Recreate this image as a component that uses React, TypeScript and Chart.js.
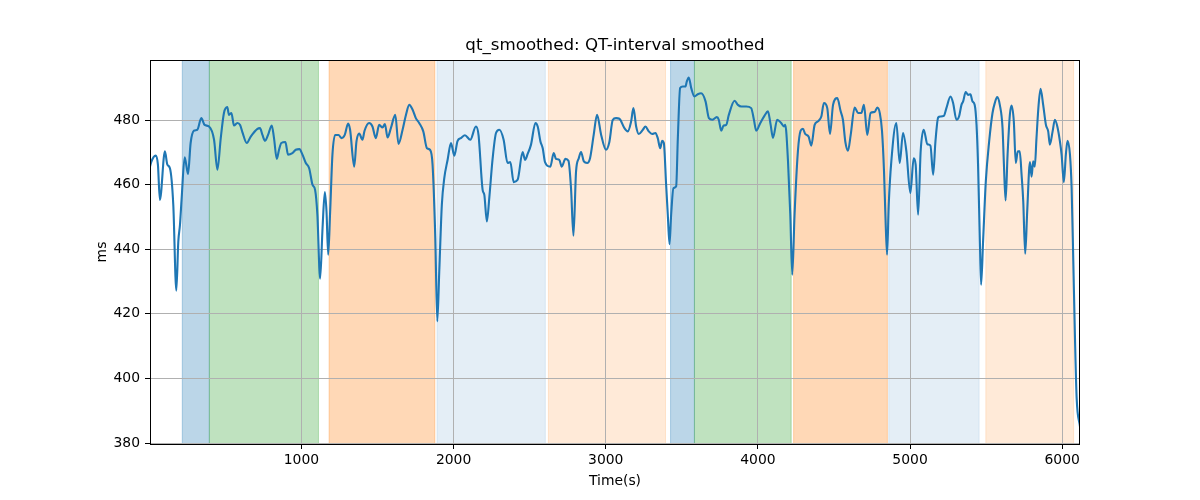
import { useEffect, useRef } from "react";
import { Chart, registerables } from "chart.js";

Chart.register(...registerables);

// QT interval samples (time in s, value in ms)
const timeS = [
  0, 13, 42, 57, 70, 103, 119, 136, 158, 178, 191, 202, 213, 233, 255, 272, 294, 316, 342, 364,
  393, 426, 448, 470, 491, 513, 524, 540, 557, 579, 597, 612, 641, 667, 711, 728, 744, 761, 781, 805,
  820, 838, 853, 868, 895, 912, 941, 963, 987, 1007, 1029, 1051, 1073, 1090, 1105, 1123, 1139, 1154, 1165, 1176,
  1189, 1204, 1222, 1244, 1263, 1285, 1307, 1320, 1347, 1362, 1380, 1401, 1415, 1445, 1467, 1489, 1511, 1533, 1549, 1566,
  1588, 1617, 1638, 1665, 1687, 1709, 1731, 1752, 1774, 1801, 1825, 1845, 1862, 1880, 1893, 1906, 1923, 1939, 1961, 1983,
  2005, 2026, 2048, 2075, 2110, 2147, 2164, 2191, 2202, 2219, 2235, 2257, 2279, 2301, 2329, 2355, 2373, 2395, 2421, 2454,
  2470, 2487, 2509, 2538, 2553, 2571, 2586, 2601, 2636, 2658, 2673, 2695, 2711, 2735, 2755, 2772, 2788, 2805, 2823, 2838,
  2856, 2878, 2897, 2921, 2943, 2970, 3002, 3024, 3046, 3068, 3090, 3123, 3145, 3167, 3182, 3200, 3217, 3244, 3261, 3283,
  3305, 3327, 3342, 3358, 3371, 3382, 3397, 3408, 3419, 3430, 3445, 3463, 3474, 3489, 3507, 3524, 3533, 3546, 3562, 3583,
  3605, 3627, 3656, 3678, 3700, 3730, 3743, 3759, 3775, 3792, 3809, 3847, 3869, 3891, 3924, 3956, 3974, 3989, 4016, 4044,
  4066, 4084, 4099, 4127, 4153, 4171, 4180, 4198, 4213, 4226, 4241, 4263, 4281, 4296, 4311, 4333, 4351, 4373, 4395, 4417,
  4434, 4456, 4474, 4494, 4522, 4544, 4559, 4575, 4592, 4610, 4636, 4658, 4680, 4697, 4719, 4741, 4768, 4785, 4801, 4816,
  4829, 4838, 4849, 4860, 4877, 4910, 4932, 4954, 4976, 5002, 5024, 5037, 5053, 5070, 5090, 5114, 5134, 5152, 5167, 5185,
  5200, 5222, 5239, 5266, 5283, 5305, 5322, 5338, 5349, 5366, 5382, 5397, 5410, 5425, 5437, 5447, 5459, 5467, 5480, 5498,
  5520, 5542, 5557, 5573, 5590, 5608, 5617, 5628, 5641, 5656, 5667, 5682, 5695, 5708, 5721, 5733, 5744, 5757, 5770, 5788,
  5799, 5809, 5820, 5831, 5845, 5858, 5875, 5893, 5908, 5919, 5937, 5952, 5968, 5985, 5996, 6011, 6024, 6035, 6051, 6062,
  6073, 6084, 6095, 6117,
];

const qtMs = [
  464.6, 467.0, 469.0, 466.2, 455.3, 470.3, 466.2, 465.1, 453.8, 427.2, 442.4, 447.6, 455.8, 468.5, 463.3, 472.9, 476.7, 477.0, 480.6, 478.5,
  478.0, 473.9, 464.6, 474.4, 482.2, 484.0, 481.6, 482.2, 478.3, 479.1, 478.5, 476.3, 472.9, 474.9, 477.3, 477.5, 475.4, 473.6, 475.4, 478.3,
  474.4, 468.0, 470.8, 472.9, 473.2, 469.3, 469.8, 470.8, 471.0, 469.3, 466.7, 465.1, 460.0, 458.4, 450.7, 430.9, 446.6, 457.7, 451.7, 438.3,
  451.7, 469.3, 475.4, 475.4, 474.4, 475.4, 478.9, 477.0, 465.6, 473.4, 475.8, 473.9, 476.7, 479.1, 478.0, 474.4, 478.5, 477.7, 478.8, 474.6,
  477.5, 481.6, 472.6, 477.0, 481.6, 484.7, 483.2, 480.6, 479.1, 476.5, 471.3, 470.8, 466.2, 443.5, 417.7, 433.1, 453.8, 462.0, 467.7, 472.9,
  469.0, 473.5, 474.4, 475.3, 473.9, 478.0, 475.4, 458.4, 456.9, 448.6, 456.0, 468.2, 476.0, 477.0, 473.9, 466.7, 467.0, 460.8, 461.5, 470.1,
  467.7, 469.5, 472.4, 479.1, 478.0, 473.4, 471.3, 467.0, 465.6, 469.8, 468.0, 467.7, 465.6, 468.0, 467.4, 458.9, 444.2, 464.1, 468.2, 470.1,
  467.2, 466.7, 468.2, 475.4, 481.6, 475.4, 470.8, 473.2, 480.0, 480.6, 480.4, 477.5, 476.5, 479.6, 483.7, 478.0, 475.7, 477.0, 478.0, 476.5,
  475.7, 476.0, 474.4, 471.3, 473.6, 472.9, 460.0, 450.7, 441.6, 450.7, 458.9, 459.5, 474.4, 489.9, 490.4, 490.4, 492.0, 493.2, 489.9, 487.3,
  488.0, 488.3, 485.8, 480.6, 480.1, 480.9, 480.1, 476.7, 478.3, 478.5, 481.6, 486.0, 484.7, 484.2, 484.2, 483.7, 480.1, 476.7, 479.1, 481.4,
  482.7, 478.5, 474.5, 480.1, 479.1, 478.0, 478.5, 467.2, 450.7, 432.1, 450.7, 470.3, 476.7, 477.3, 475.7, 474.9, 472.1, 478.5, 479.6, 481.1,
  485.3, 483.7, 475.7, 484.7, 486.8, 482.7, 480.1, 473.2, 470.5, 475.4, 483.9, 482.2, 482.2, 484.7, 475.4, 482.2, 482.5, 483.9, 482.2, 476.5,
  464.1, 450.7, 438.3, 453.8, 467.2, 479.1, 466.7, 476.0, 470.3, 457.4, 468.2, 466.2, 450.7, 470.5, 477.0, 472.5, 472.1, 463.1, 473.4, 480.8,
  481.1, 481.3, 483.7, 487.3, 485.3, 480.1, 481.1, 484.7, 485.8, 488.7, 487.8, 488.0, 485.8, 484.7, 478.5, 466.2, 442.4, 429.0, 442.4, 461.0,
  473.4, 482.2, 485.3, 487.1, 484.7, 477.5, 466.2, 455.1, 469.3, 481.6, 484.5, 479.6, 466.7, 470.3, 470.3, 463.1, 454.8, 438.6, 451.7, 467.0,
  462.5, 467.2, 465.6, 474.4, 484.7, 489.7, 484.7, 478.5, 476.5, 472.4, 476.5, 480.1, 478.0, 473.4, 469.3, 460.8, 469.3, 473.6, 469.3, 458.9,
  436.2, 412.5, 393.9, 385.1,
];

const xTicks = [1000, 2000, 3000, 4000, 5000, 6000];
const yTicks = [380, 400, 420, 440, 460, 480];

// shaded phases
const spanStarts = [217, 395, 1182, 1891, 2623, 3426, 3583, 4235, 4860, 5498];
const spanEnds = [395, 1112, 1877, 2603, 3393, 3583, 4219, 4851, 5454, 6075];
const spanKinds = ["blue", "green", "orange", "paleBlue", "paleOrange", "blue", "green", "orange", "paleBlue", "paleOrange"];

const spanFill: Record<string, string> = {
  blue: "rgba(31,119,180,0.3)",
  green: "rgba(44,160,44,0.3)",
  orange: "rgba(255,127,14,0.3)",
  paleBlue: "rgba(31,119,180,0.12)",
  paleOrange: "rgba(255,127,14,0.16)",
};

const FONT = "DejaVu Sans";

const spansPlugin = {
  id: "spans",
  beforeDraw(chart: Chart) {
    const { ctx, chartArea, scales } = chart;
    const x = scales.x;
    ctx.save();
    ctx.beginPath();
    ctx.rect(chartArea.left, chartArea.top, chartArea.right - chartArea.left, chartArea.bottom - chartArea.top);
    ctx.clip();
    spanStarts.forEach((s, i) => {
      const x0 = x.getPixelForValue(s);
      const x1 = x.getPixelForValue(spanEnds[i]);
      ctx.fillStyle = spanFill[spanKinds[i]];
      ctx.fillRect(x0, chartArea.top, x1 - x0, chartArea.bottom - chartArea.top);
      ctx.strokeStyle = spanFill[spanKinds[i]];
      ctx.lineWidth = 1;
      ctx.strokeRect(x0, chartArea.top, x1 - x0, chartArea.bottom - chartArea.top);
    });
    ctx.restore();
  },
};

const framePlugin = {
  id: "frame",
  afterDatasetsDraw(chart: Chart) {
    const { ctx, chartArea } = chart;
    ctx.save();
    ctx.strokeStyle = "#000";
    ctx.lineWidth = 1;
    ctx.strokeRect(
      Math.round(chartArea.left) + 0.5,
      Math.round(chartArea.top) + 0.5,
      Math.round(chartArea.right - chartArea.left) - 1,
      Math.round(chartArea.bottom - chartArea.top)
    );
    ctx.restore();
  },
};

const gridOpts = {
  color: "#b0b0b0",
  lineWidth: 1,
  tickColor: "#000",
  tickLength: 5,
  tickWidth: 1,
};

const QtSmoothedChart = () => {
  const canvasRef = useRef<HTMLCanvasElement | null>(null);
  const chartRef = useRef<Chart | null>(null);

  useEffect(() => {
    if (!canvasRef.current) return;
    const ctx = canvasRef.current.getContext("2d");
    if (!ctx) return;

    chartRef.current = new Chart(ctx, {
      type: "line",
      data: {
        datasets: [
          {
            label: "qt_smoothed",
            data: timeS.map((t, i) => ({ x: t, y: qtMs[i] })),
            borderColor: "#1f77b4",
            borderWidth: 2.1,
            borderJoinStyle: "round",
            pointRadius: 0,
            cubicInterpolationMode: "monotone",
            fill: false,
          },
        ],
      },
      options: {
        animation: false,
        responsive: true,
        maintainAspectRatio: false,
        layout: { padding: { left: 0, right: 120, top: 0, bottom: 0 } },
        plugins: {
          legend: { display: false },
          tooltip: { enabled: false },
          title: {
            display: true,
            text: "qt_smoothed: QT-interval smoothed",
            color: "#000",
            fullSize: false,
            font: { family: FONT, size: 16.67, weight: "normal" },
            padding: { top: 35.7, bottom: 4.3 },
          },
        },
        scales: {
          x: {
            type: "linear",
            min: 5,
            max: 6117,
            afterBuildTicks: (scale: any) => {
              scale.ticks = xTicks.map((v) => ({ value: v }));
            },
            afterFit: (scale: any) => {
              scale.height = 56;
            },
            grid: gridOpts,
            border: { display: false },
            ticks: {
              color: "#000",
              font: { family: FONT, size: 13.9 },
              padding: 3.4,
              maxRotation: 0,
              autoSkip: false,
              callback: (v: any) => String(v),
            },
            title: {
              display: true,
              text: "Time(s)",
              color: "#000",
              font: { family: FONT, size: 13.9 },
              padding: { top: 0, bottom: 10.7 },
            },
          },
          y: {
            type: "linear",
            min: 379.7,
            max: 498.6,
            afterBuildTicks: (scale: any) => {
              scale.ticks = yTicks.map((v) => ({ value: v }));
            },
            afterFit: (scale: any) => {
              scale.width = 150;
            },
            grid: gridOpts,
            border: { display: false },
            ticks: {
              color: "#000",
              font: { family: FONT, size: 13.9 },
              padding: 5,
              autoSkip: false,
              callback: (v: any) => String(v),
            },
            title: {
              display: true,
              text: "ms",
              color: "#000",
              font: { family: FONT, size: 13.9 },
              padding: { top: 93.7, bottom: 0 },
            },
          },
        },
      },
      plugins: [spansPlugin, framePlugin],
    });

    return () => {
      chartRef.current?.destroy();
    };
  }, []);

  return (
    <div style={{ position: "absolute", left: 0, top: 0, width: 1200, height: 500, background: "#fff" }}>
      <canvas ref={canvasRef} />
    </div>
  );
};

export default function App() {
  return <QtSmoothedChart />;
}
